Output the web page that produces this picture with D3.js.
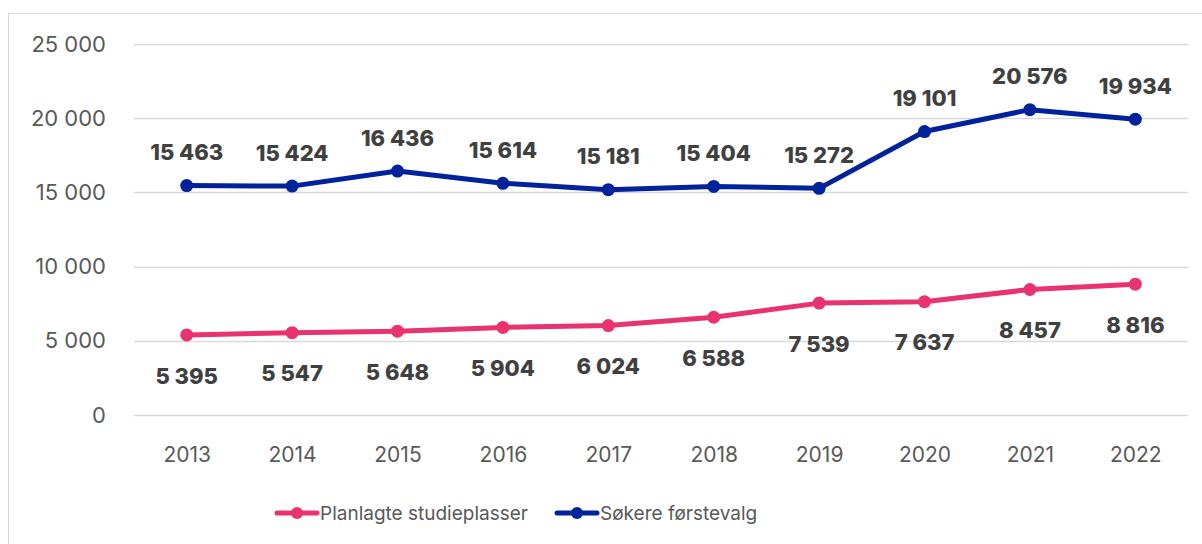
<!DOCTYPE html>
<html>
<head>
<meta charset="utf-8">
<script src="https://cdn.jsdelivr.net/npm/d3@7"></script>
<style>
	body { margin: 0; background: #fff; }
	text { font-family: Inter, "Open Sans", sans-serif; }
</style>
</head>
<body>
<script>
var years = ["2013", "2014", "2015", "2016", "2017", "2018", "2019", "2020", "2021", "2022"];
var planlagte = [5395, 5547, 5648, 5904, 6024, 6588, 7539, 7637, 8457, 8816];
var sokere = [15463, 15424, 16436, 15614, 15181, 15404, 15272, 19101, 20576, 19934];
var yTicks = [0, 5000, 10000, 15000, 20000, 25000];
var seriesNames = ["Planlagte studieplasser", "Søkere førstevalg"];

var pink = "#E8336F", blue = "#00239C";

var fmt = function(v) {
	return d3.format(",")(v).replace(/,/g, " ");
};

var svg = d3.select("body").append("svg")
	.attr("width", 1202)
	.attr("height", 544);

// chart frame
svg.append("rect")
	.attr("x", 8.5).attr("y", 13.5)
	.attr("width", 1210).attr("height", 560)
	.attr("fill", "none")
	.attr("stroke", "#d9d9d9")
	.attr("stroke-width", 1);

var x = d3.scalePoint()
	.domain(years)
	.range([134, 1188])
	.padding(0.5);

var y = d3.scaleLinear()
	.domain([0, 25000])
	.range([415, 44]);

// gridlines
svg.append("g").selectAll("line")
	.data(yTicks)
	.enter().append("line")
	.attr("x1", 134).attr("x2", 1188)
	.attr("y1", function(d) { return Math.round(y(d)) + 0.5; })
	.attr("y2", function(d) { return Math.round(y(d)) + 0.5; })
	.attr("stroke", "#d9d9d9")
	.attr("stroke-width", 1.5);

// y axis labels
var yAxis = svg.append("g")
	.attr("transform", "translate(134,0)")
	.call(d3.axisLeft(y).tickValues(yTicks).tickSize(0).tickPadding(28).tickFormat(fmt));
yAxis.select(".domain").remove();
yAxis.selectAll("text")
	.attr("fill", "#595959")
	.style("font-size", "22px");

// x axis labels
var xAxis = svg.append("g")
	.attr("transform", "translate(0,415)")
	.call(d3.axisBottom(x).tickSize(0).tickPadding(32));
xAxis.select(".domain").remove();
xAxis.selectAll("text")
	.attr("fill", "#595959")
	.style("font-size", "21px");

var line = d3.line()
	.x(function(d, i) { return x(years[i]); })
	.y(function(d) { return y(d); });

function drawSeries(values, color, dy) {
	var g = svg.append("g");
	g.append("path")
		.datum(values)
		.attr("fill", "none")
		.attr("stroke", color)
		.attr("stroke-width", 5)
		.attr("stroke-linejoin", "round")
		.attr("d", line);
	g.selectAll("circle")
		.data(values)
		.enter().append("circle")
		.attr("cx", function(d, i) { return x(years[i]); })
		.attr("cy", function(d) { return y(d); })
		.attr("r", 6.5)
		.attr("fill", color);
	g.selectAll("text")
		.data(values)
		.enter().append("text")
		.attr("x", function(d, i) { return x(years[i]); })
		.attr("y", function(d) { return y(d) + dy; })
		.attr("dy", "0.35em")
		.attr("text-anchor", "middle")
		.attr("fill", "#404040")
		.style("font-size", "22px")
		.style("font-weight", "800")
		.text(fmt);
}

drawSeries(planlagte, pink, 41);
drawSeries(sokere, blue, -33);

// legend
var legendData = [
	{ name: seriesNames[0], color: pink, x: 277 },
	{ name: seriesNames[1], color: blue, x: 557 }
];
var legend = svg.selectAll(".legend")
	.data(legendData)
	.enter().append("g")
	.attr("class", "legend")
	.attr("transform", function(d) { return "translate(" + d.x + ",513)"; });
legend.append("line")
	.attr("x1", 0).attr("x2", 40)
	.attr("stroke", function(d) { return d.color; })
	.attr("stroke-width", 5)
	.attr("stroke-linecap", "round");
legend.append("circle")
	.attr("cx", 20).attr("r", 6)
	.attr("fill", function(d) { return d.color; });
legend.append("text")
	.attr("x", 43)
	.attr("dy", "0.35em")
	.attr("fill", "#595959")
	.style("font-size", "19px")
	.text(function(d) { return d.name; });
</script>
</body>
</html>
